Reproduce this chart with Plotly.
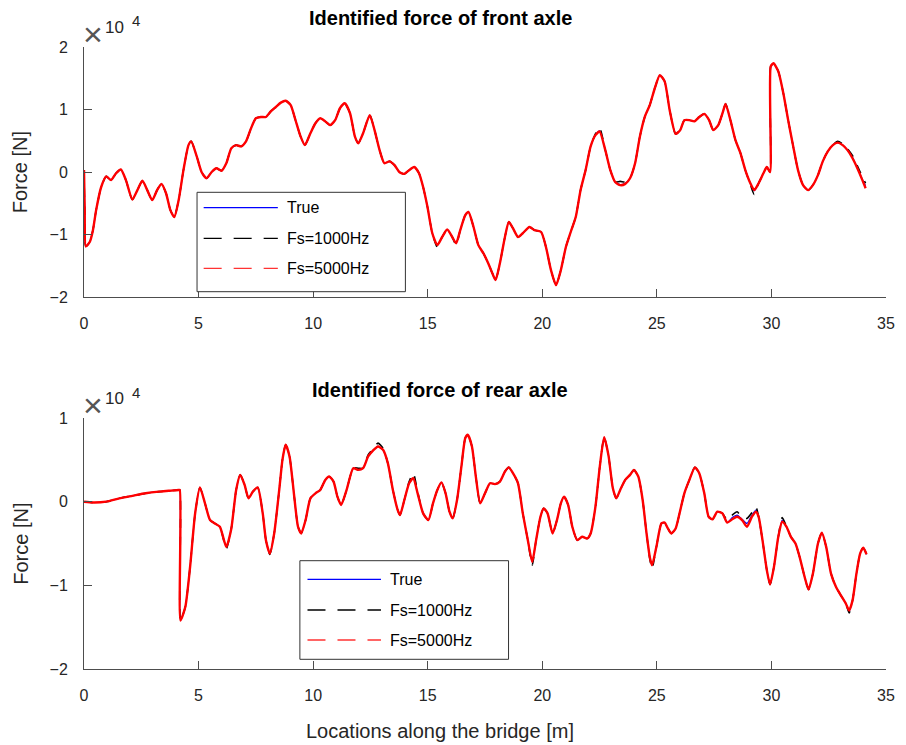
import plotly.graph_objects as go

# ---------------- data (forces in units of 10^4 N) ----------------
front_x = [0.00, 0.03, 0.08, 0.25, 0.39, 0.53, 0.75, 0.97, 1.18, 1.40, 1.61, 1.83, 2.11, 2.33, 2.55, 2.76,
           2.98, 3.19, 3.38, 3.58, 3.77, 3.94, 4.13, 4.34, 4.56, 4.68, 4.92, 5.13, 5.35, 5.57, 5.78, 6.00,
           6.21, 6.43, 6.64, 6.86, 7.07, 7.29, 7.50, 7.72, 7.94, 8.15, 8.37, 8.59, 8.80, 9.02, 9.23, 9.45,
           9.64, 9.88, 10.10, 10.31, 10.53, 10.74, 10.96, 11.17, 11.38, 11.61, 11.82, 11.97, 12.18, 12.47,
           12.68, 12.90, 13.11, 13.33, 13.55, 13.76, 13.98, 14.19, 14.41, 14.62, 14.80, 14.99, 15.20, 15.42,
           15.63, 15.85, 16.07, 16.24, 16.42, 16.64, 16.78, 17.00, 17.21, 17.43, 17.64, 17.82, 17.96, 18.15,
           18.37, 18.54, 18.72, 18.94, 19.15, 19.44, 19.66, 19.95, 20.16, 20.38, 20.60, 20.81, 21.03, 21.24,
           21.46, 21.67, 21.89, 22.11, 22.32, 22.50, 22.75, 22.97, 23.18, 23.40, 23.62, 23.83, 24.05, 24.26,
           24.48, 24.69, 24.91, 25.13, 25.34, 25.56, 25.82, 26.02, 26.20, 26.42, 26.64, 26.85, 27.07, 27.28,
           27.46, 27.68, 27.89, 28.00, 28.21, 28.43, 28.65, 28.86, 29.08, 29.25, 29.44, 29.65, 29.80, 29.94,
           29.97, 30.09, 30.30, 30.52, 30.73, 30.95, 31.16, 31.38, 31.60, 31.81, 32.03, 32.24, 32.46, 32.68,
           32.89, 33.11, 33.32, 33.54, 33.75, 33.97, 34.11]

front_true = [0.03, -0.60, -1.19, -1.12, -0.93, -0.61, -0.24, -0.07, -0.13, -0.02, 0.04, -0.13, -0.44, -0.29, -0.14, -0.29,
              -0.45, -0.29, -0.19, -0.34, -0.61, -0.72, -0.45, 0.03, 0.43, 0.49, 0.25, 0.00, -0.10, 0.00, 0.06, 0.02,
              0.14, 0.38, 0.43, 0.41, 0.49, 0.70, 0.86, 0.88, 0.88, 0.97, 1.04, 1.11, 1.14, 1.07, 0.83, 0.57,
              0.43, 0.62, 0.78, 0.86, 0.81, 0.75, 0.83, 1.02, 1.10, 0.94, 0.57, 0.46, 0.62, 0.91,
              0.67, 0.35, 0.14, 0.17, 0.11, 0.00, -0.03, 0.03, 0.08, -0.02, -0.24, -0.56, -0.98, -1.17,
              -1.04, -0.92, -1.04, -1.14, -0.93, -0.69, -0.64, -0.88, -1.17, -1.30, -1.46, -1.62, -1.73, -1.46,
              -1.04, -0.80, -0.90, -1.04, -0.98, -0.88, -0.93, -0.96, -1.20, -1.57, -1.81, -1.57, -1.20, -0.96,
              -0.72, -0.29, 0.03, 0.41, 0.59, 0.66, 0.35, 0.03, -0.16, -0.20, -0.18, -0.10, 0.14, 0.57,
              0.89, 1.07, 1.34, 1.55, 1.45, 0.99, 0.61, 0.67, 0.83, 0.83, 0.81, 0.88, 0.93, 0.83,
              0.67, 0.75, 0.97, 1.09, 0.83, 0.51, 0.30, 0.03, -0.18, -0.30, -0.18, -0.02, 0.08, 0.00,
              1.69, 1.74, 1.61, 1.26, 0.83, 0.41, 0.03, -0.21, -0.29, -0.21, -0.05, 0.17, 0.33, 0.43,
              0.47, 0.43, 0.35, 0.23, 0.06, -0.12, -0.22]

front_fs1000 = [0.03, -0.60, -1.19, -1.12, -0.93, -0.61, -0.24, -0.07, -0.13, -0.02, 0.04, -0.13, -0.44, -0.29, -0.14, -0.29,
                -0.45, -0.29, -0.19, -0.34, -0.61, -0.72, -0.45, 0.03, 0.43, 0.49, 0.25, 0.00, -0.10, 0.00, 0.06, 0.02,
                0.14, 0.38, 0.43, 0.41, 0.49, 0.70, 0.86, 0.88, 0.88, 0.97, 1.04, 1.11, 1.14, 1.07, 0.83, 0.57,
                0.43, 0.62, 0.78, 0.86, 0.81, 0.75, 0.83, 1.02, 1.10, 0.94, 0.57, 0.46, 0.62, 0.91,
                0.67, 0.35, 0.14, 0.17, 0.11, 0.00, -0.03, 0.03, 0.08, -0.02, -0.24, -0.56, -0.98, -1.20,
                -1.04, -0.92, -1.04, -1.17, -0.93, -0.69, -0.64, -0.88, -1.17, -1.30, -1.46, -1.62, -1.73, -1.46,
                -1.04, -0.80, -0.90, -1.04, -0.98, -0.88, -0.93, -0.96, -1.20, -1.57, -1.81, -1.57, -1.20, -0.96,
                -0.72, -0.29, 0.03, 0.41, 0.61, 0.71, 0.35, 0.03, -0.16, -0.15, -0.16, -0.10, 0.14, 0.57,
                0.89, 1.07, 1.34, 1.55, 1.45, 0.99, 0.61, 0.67, 0.83, 0.83, 0.81, 0.88, 0.93, 0.83,
                0.67, 0.75, 0.97, 1.09, 0.83, 0.51, 0.30, 0.03, -0.20, -0.36, -0.18, -0.02, 0.08, 0.00,
                1.69, 1.74, 1.61, 1.26, 0.83, 0.41, 0.03, -0.21, -0.29, -0.21, -0.05, 0.17, 0.33, 0.43,
                0.49, 0.45, 0.37, 0.26, 0.10, -0.08, -0.18]

front_fs5000 = [0.03, -0.60, -1.19, -1.12, -0.93, -0.61, -0.24, -0.07, -0.13, -0.02, 0.04, -0.13, -0.44, -0.29, -0.14, -0.29,
                -0.45, -0.29, -0.19, -0.34, -0.61, -0.72, -0.45, 0.03, 0.43, 0.49, 0.25, 0.00, -0.10, 0.00, 0.06, 0.02,
                0.14, 0.38, 0.43, 0.41, 0.49, 0.70, 0.86, 0.88, 0.88, 0.97, 1.04, 1.11, 1.14, 1.07, 0.83, 0.57,
                0.43, 0.62, 0.78, 0.86, 0.81, 0.75, 0.83, 1.02, 1.10, 0.94, 0.57, 0.46, 0.62, 0.91,
                0.67, 0.35, 0.14, 0.17, 0.11, 0.00, -0.03, 0.03, 0.08, -0.02, -0.24, -0.56, -0.98, -1.17,
                -1.04, -0.92, -1.04, -1.14, -0.93, -0.69, -0.64, -0.88, -1.17, -1.30, -1.46, -1.62, -1.73, -1.46,
                -1.04, -0.80, -0.90, -1.04, -0.98, -0.88, -0.93, -0.96, -1.20, -1.57, -1.81, -1.57, -1.20, -0.96,
                -0.72, -0.29, 0.03, 0.41, 0.59, 0.65, 0.35, 0.03, -0.16, -0.21, -0.19, -0.10, 0.14, 0.57,
                0.89, 1.07, 1.34, 1.55, 1.45, 0.99, 0.61, 0.67, 0.83, 0.83, 0.81, 0.88, 0.93, 0.83,
                0.67, 0.75, 0.97, 1.09, 0.83, 0.51, 0.30, 0.03, -0.18, -0.29, -0.18, -0.02, 0.08, 0.00,
                1.69, 1.74, 1.61, 1.26, 0.83, 0.41, 0.03, -0.21, -0.29, -0.21, -0.05, 0.17, 0.33, 0.43,
                0.47, 0.43, 0.35, 0.22, 0.06, -0.13, -0.26]

rear_x = [0.00, 0.39, 0.97, 1.54, 2.11, 2.69, 3.27, 3.70, 4.13, 4.18, 4.21, 4.42, 4.63, 4.85, 5.06, 5.28,
          5.50, 5.71, 5.93, 6.21, 6.43, 6.64, 6.82, 7.01, 7.18, 7.37, 7.58, 7.80, 7.94, 8.11, 8.30, 8.52,
          8.66, 8.80, 8.97, 9.16, 9.34, 9.48, 9.67, 9.88, 10.10, 10.31, 10.53, 10.70, 10.89, 11.06, 11.22, 11.46,
          11.75, 11.97, 12.18, 12.40, 12.61, 12.83, 13.05, 13.26, 13.48, 13.69, 13.79, 13.98, 14.19, 14.37,
          14.56, 14.80, 15.03, 15.23, 15.42, 15.60, 15.78, 15.95, 16.09, 16.28, 16.47, 16.64, 16.75, 16.93,
          17.10, 17.29, 17.50, 17.72, 17.93, 18.15, 18.37, 18.54, 18.72, 18.94, 19.15, 19.37, 19.56, 19.73,
          19.92, 20.06, 20.23, 20.45, 20.64, 20.81, 20.95, 21.13, 21.31, 21.53, 21.74, 21.96, 22.11, 22.32,
          22.51, 22.70, 22.89, 23.08, 23.23, 23.40, 23.62, 23.83, 24.00, 24.19, 24.38, 24.55, 24.69, 24.79,
          24.98, 25.20, 25.34, 25.48, 25.63, 25.82, 25.99, 26.20, 26.42, 26.66, 26.85, 27.07, 27.26, 27.43,
          27.64, 27.86, 28.07, 28.29, 28.50, 28.72, 28.93, 29.15, 29.32, 29.44, 29.61, 29.80, 29.94, 30.11,
          30.30, 30.47, 30.66, 30.85, 31.05, 31.23, 31.45, 31.62, 31.81, 32.03, 32.20, 32.39, 32.60, 32.82,
          33.03, 33.25, 33.39, 33.54, 33.71, 33.87, 34.01, 34.15]

rear_true = [0.00, -0.01, 0.00, 0.04, 0.07, 0.10, 0.12, 0.13, 0.14, 0.14, -1.42, -1.26, -0.78, -0.14, 0.17, -0.02,
             -0.22, -0.26, -0.30, -0.54, -0.32, 0.14, 0.32, 0.20, 0.04, 0.12, 0.17, -0.14, -0.46, -0.62, -0.38, 0.14,
             0.50, 0.68, 0.54, 0.10, -0.30, -0.38, -0.22, 0.04, 0.10, 0.14, 0.26, 0.30, 0.24, 0.06, -0.04, 0.14,
             0.40, 0.38, 0.40, 0.54, 0.61, 0.66, 0.62, 0.46, 0.14, -0.10, -0.16, 0.02, 0.22, 0.28,
             0.10, -0.14, -0.22, -0.02, 0.14, 0.23, 0.10, -0.12, -0.20, 0.02, 0.42, 0.76, 0.80, 0.66,
             0.30, -0.02, 0.10, 0.22, 0.21, 0.24, 0.36, 0.41, 0.34, 0.22, -0.14, -0.46, -0.72, -0.46,
             -0.18, -0.08, -0.14, -0.38, -0.22, -0.02, 0.06, -0.04, -0.30, -0.46, -0.42, -0.44, -0.38, -0.06,
             0.42, 0.77, 0.55, 0.16, 0.04, 0.14, 0.26, 0.32, 0.38, 0.30, 0.02, -0.38, -0.66, -0.76,
             -0.54, -0.26, -0.25, -0.32, -0.38, -0.32, -0.14, 0.10, 0.26, 0.41, 0.34, 0.10, -0.18, -0.21,
             -0.12, -0.14, -0.25, -0.19, -0.16, -0.21, -0.26, -0.16, -0.10, -0.18, -0.46, -0.82, -0.99, -0.78,
             -0.42, -0.22, -0.30, -0.42, -0.50, -0.66, -0.90, -1.05, -0.86, -0.50, -0.37, -0.54, -0.86, -1.02,
             -1.12, -1.22, -1.31, -1.18, -0.86, -0.62, -0.55, -0.63]

rear_fs1000 = [0.00, -0.01, 0.00, 0.04, 0.07, 0.10, 0.12, 0.13, 0.14, 0.14, -1.42, -1.26, -0.78, -0.14, 0.17, -0.02,
               -0.22, -0.26, -0.30, -0.56, -0.32, 0.14, 0.32, 0.20, 0.04, 0.12, 0.17, -0.14, -0.46, -0.63, -0.38, 0.14,
               0.50, 0.68, 0.54, 0.10, -0.30, -0.38, -0.22, 0.04, 0.10, 0.14, 0.26, 0.30, 0.24, 0.06, -0.04, 0.14,
               0.40, 0.40, 0.40, 0.56, 0.63, 0.70, 0.64, 0.46, 0.14, -0.10, -0.16, 0.02, 0.24, 0.34,
               0.12, -0.14, -0.22, -0.02, 0.14, 0.23, 0.10, -0.12, -0.20, 0.02, 0.42, 0.76, 0.80, 0.66,
               0.30, -0.02, 0.10, 0.22, 0.21, 0.24, 0.36, 0.41, 0.34, 0.22, -0.14, -0.46, -0.76, -0.46,
               -0.18, -0.08, -0.14, -0.38, -0.22, -0.02, 0.06, -0.04, -0.30, -0.46, -0.42, -0.44, -0.38, -0.06,
               0.42, 0.77, 0.55, 0.16, 0.04, 0.14, 0.26, 0.32, 0.38, 0.30, 0.02, -0.38, -0.68, -0.80,
               -0.54, -0.26, -0.25, -0.32, -0.38, -0.32, -0.14, 0.10, 0.26, 0.41, 0.34, 0.10, -0.18, -0.21,
               -0.12, -0.14, -0.22, -0.16, -0.12, -0.19, -0.20, -0.13, -0.06, -0.18, -0.46, -0.82, -0.99, -0.78,
               -0.42, -0.19, -0.30, -0.42, -0.50, -0.66, -0.90, -1.05, -0.86, -0.50, -0.37, -0.54, -0.86, -1.02,
               -1.12, -1.22, -1.33, -1.18, -0.86, -0.62, -0.55, -0.63]

rear_fs5000 = [0.00, -0.01, 0.00, 0.04, 0.07, 0.10, 0.12, 0.13, 0.14, 0.14, -1.42, -1.26, -0.78, -0.14, 0.17, -0.02,
               -0.22, -0.26, -0.30, -0.54, -0.32, 0.14, 0.32, 0.20, 0.04, 0.12, 0.17, -0.14, -0.46, -0.62, -0.38, 0.14,
               0.50, 0.68, 0.54, 0.10, -0.30, -0.38, -0.22, 0.04, 0.10, 0.14, 0.26, 0.30, 0.24, 0.06, -0.04, 0.14,
               0.40, 0.38, 0.40, 0.54, 0.61, 0.66, 0.62, 0.46, 0.14, -0.10, -0.16, 0.02, 0.22, 0.28,
               0.10, -0.14, -0.22, -0.02, 0.14, 0.23, 0.10, -0.12, -0.20, 0.02, 0.42, 0.76, 0.80, 0.66,
               0.30, -0.02, 0.10, 0.22, 0.21, 0.24, 0.36, 0.41, 0.34, 0.22, -0.14, -0.46, -0.72, -0.46,
               -0.18, -0.08, -0.14, -0.38, -0.22, -0.02, 0.06, -0.04, -0.30, -0.46, -0.42, -0.44, -0.38, -0.06,
               0.42, 0.77, 0.55, 0.16, 0.04, 0.14, 0.26, 0.32, 0.38, 0.30, 0.02, -0.38, -0.66, -0.76,
               -0.54, -0.26, -0.25, -0.32, -0.38, -0.32, -0.14, 0.10, 0.26, 0.41, 0.34, 0.10, -0.18, -0.21,
               -0.12, -0.14, -0.25, -0.21, -0.18, -0.22, -0.30, -0.18, -0.12, -0.18, -0.46, -0.82, -0.99, -0.78,
               -0.42, -0.24, -0.30, -0.42, -0.50, -0.66, -0.90, -1.05, -0.86, -0.50, -0.37, -0.54, -0.86, -1.02,
               -1.12, -1.22, -1.30, -1.18, -0.86, -0.62, -0.55, -0.63]

x_ticks = [0, 5, 10, 15, 20, 25, 30, 35]
front_yticks = [-2, -1, 0, 1, 2]
rear_yticks = [-2, -1, 0, 1]
series_names = ["True", "Fs=1000Hz", "Fs=5000Hz"]
titles = ["Identified force of front axle", "Identified force of rear axle"]

# ---------------- figure ----------------
W, H = 906, 745
ML, MR, MT, MB = 84, 11, 47, 76
PW, PH = W - ML - MR, H - MT - MB


def PX(px):
    return (px - ML) / PW


def PY(py):
    return (H - MB - py) / PH


FONT = "Liberation Sans, Arial, sans-serif"
AXC = "#4d4d4d"
TXT = "#262626"

fig = go.Figure()

panels = [
    (front_x, front_true, front_fs1000, front_fs5000, "x", "y"),
    (rear_x, rear_true, rear_fs1000, rear_fs5000, "x2", "y2"),
]
for xs, yt, y1, y5, xa, ya in panels:
    fig.add_trace(go.Scatter(x=xs, y=yt, mode="lines", name=series_names[0], xaxis=xa, yaxis=ya,
                             line=dict(color="#0000ff", width=1.2, shape="spline", smoothing=0.6),
                             showlegend=False))
    fig.add_trace(go.Scatter(x=xs, y=y1, mode="lines", name=series_names[1], xaxis=xa, yaxis=ya,
                             line=dict(color="#000000", width=1.6, dash="dash", shape="spline", smoothing=0.6),
                             showlegend=False))
    fig.add_trace(go.Scatter(x=xs, y=y5, mode="lines", name=series_names[2], xaxis=xa, yaxis=ya,
                             line=dict(color="#ff0000", width=2.4, shape="spline", smoothing=0.6),
                             showlegend=False))

axis_common = dict(showgrid=False, zeroline=False, showline=True, linecolor=AXC, linewidth=1,
                   ticks="inside", ticklen=8, tickwidth=1, tickcolor=AXC, mirror=False,
                   tickfont=dict(family=FONT, size=16, color=TXT))

top_dom = [PY(297), 1.0]
bot_dom = [0.0, PY(418)]

fig.update_layout(
    width=W, height=H,
    margin=dict(l=ML, r=MR, t=MT, b=MB),
    paper_bgcolor="white", plot_bgcolor="white",
    showlegend=False,
    xaxis=dict(range=[0, 35], domain=[0, 1], anchor="y", tickvals=x_ticks,
               ticklabelstandoff=12, **axis_common),
    yaxis=dict(range=[-2, 2], domain=top_dom, anchor="x", tickvals=front_yticks,
               ticklabelstandoff=12, **axis_common),
    xaxis2=dict(range=[0, 35], domain=[0, 1], anchor="y2", tickvals=x_ticks,
                ticklabelstandoff=12, **axis_common),
    yaxis2=dict(range=[-2, 1], domain=bot_dom, anchor="x2", tickvals=rear_yticks,
                ticklabelstandoff=12, **axis_common),
)

annotations = []
shapes = []

# titles
for t, py in zip(titles, [18, 390]):
    annotations.append(dict(text="<b>" + t + "</b>", x=PX(444), y=PY(py), xref="paper", yref="paper",
                            showarrow=False, xanchor="center", yanchor="middle",
                            font=dict(family=FONT, size=20, color="#000000")))

# y labels
for py in [172, 543.5]:
    annotations.append(dict(text="Force [N]", x=PX(19.5), y=PY(py), xref="paper", yref="paper",
                            showarrow=False, textangle=-90, xanchor="center", yanchor="middle",
                            font=dict(family=FONT, size=20, color=TXT)))

# x label
annotations.append(dict(text="Locations along the bridge [m]", x=PX(444), y=PY(731), xref="paper", yref="paper",
                        showarrow=False, xanchor="center", yanchor="middle",
                        font=dict(family=FONT, size=20, color=TXT)))

# x10^4 exponent labels
for dy in [0, 371]:
    annotations.append(dict(text="\u00d7", x=PX(93.5), y=PY(34 + dy), xref="paper", yref="paper",
                            showarrow=False, xanchor="center", yanchor="middle",
                            font=dict(family=FONT, size=34, color="#555555")))
    annotations.append(dict(text="10", x=PX(115), y=PY(27.5 + dy), xref="paper", yref="paper",
                            showarrow=False, xanchor="center", yanchor="middle",
                            font=dict(family=FONT, size=17, color=TXT)))
    annotations.append(dict(text="4", x=PX(136.5), y=PY(21 + dy), xref="paper", yref="paper",
                            showarrow=False, xanchor="center", yanchor="middle",
                            font=dict(family=FONT, size=15, color=TXT)))

# legends (MATLAB-style boxes)
legend_boxes = [
    dict(x0=198.3, x1=409, y0=192.3, y1=291.7, lx0=205, lx1=280, tx=287, rows=[207.7, 238.3, 268.3]),
    dict(x0=302.3, x1=513.3, y0=560.7, y1=659.3, lx0=310, lx1=384.3, tx=391, rows=[579.3, 610, 640]),
]
styles = [("#0000ff", "solid"), ("#000000", "18px,12px"), ("#ff3333", "18px,12px")]
for lb in legend_boxes:
    shapes.append(dict(type="rect", xref="paper", yref="paper", x0=PX(lb["x0"]), x1=PX(lb["x1"]),
                       y0=PY(lb["y1"]), y1=PY(lb["y0"]), fillcolor="white",
                       line=dict(color="#333333", width=1), layer="above"))
    for (col, dash), row, name in zip(styles, lb["rows"], series_names):
        shapes.append(dict(type="line", xref="paper", yref="paper", x0=PX(lb["lx0"]), x1=PX(lb["lx1"]),
                           y0=PY(row), y1=PY(row), line=dict(color=col, width=1.3, dash=dash), layer="above"))
        annotations.append(dict(text=name, x=PX(lb["tx"]), y=PY(row), xref="paper", yref="paper",
                                showarrow=False, xanchor="left", yanchor="middle",
                                font=dict(family=FONT, size=16, color="#000000")))

fig.update_layout(annotations=annotations, shapes=shapes)

fig.write_html("out.html",
               config={"displayModeBar": False, "staticPlot": True},
               post_script="document.body.style.margin='0';document.body.style.overflow='hidden';")
